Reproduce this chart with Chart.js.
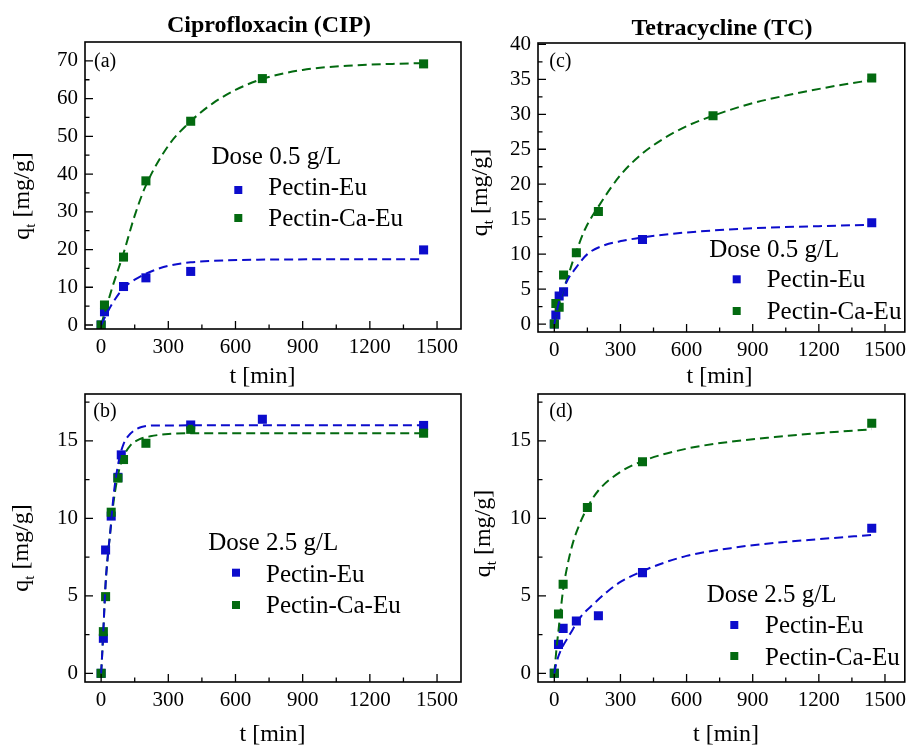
<!DOCTYPE html>
<html>
<head>
<meta charset="utf-8">
<script src="https://cdn.jsdelivr.net/npm/chart.js@4.4.1/dist/chart.umd.min.js"></script>
<style>
  html, body { margin: 0; padding: 0; background: #fff; }
  #wrap { position: relative; width: 912px; height: 747px; overflow: hidden; background: #fff; }
  #wrap canvas { position: absolute; left: 0; top: 0; }
</style>
</head>
<body>
<div id="wrap">
  <canvas id="panelA" width="912" height="747"></canvas>
  <canvas id="panelB" width="912" height="747"></canvas>
  <canvas id="panelC" width="912" height="747"></canvas>
  <canvas id="panelD" width="912" height="747"></canvas>
</div>
<script>
// ---------- data: adsorption kinetics, t [min] vs q_t [mg/g] ----------

// (a) Ciprofloxacin, dose 0.5 g/L
const cipLowEuT = [0, 15, 100, 200, 400, 1440];
const cipLowEuQ = [0, 3.5, 10.2, 12.5, 14.2, 19.9];
const cipLowCaT = [0, 15, 100, 200, 400, 720, 1440];
const cipLowCaQ = [0, 5.3, 18.0, 38.2, 54.0, 65.3, 69.2];
const cipLowEuFitT = [0, 25, 50, 100, 150, 200, 250, 300, 400, 500, 700, 1000, 1440];
const cipLowEuFitQ = [0, 3.0, 5.7, 9.8, 12.0, 13.6, 14.8, 15.7, 16.6, 17.0, 17.3, 17.4, 17.4];
const cipLowCaFitT = [0, 25, 50, 100, 150, 200, 300, 400, 500, 600, 720, 900, 1100, 1300, 1440];
const cipLowCaFitQ = [0, 5, 10, 19, 29, 37, 47.5, 54, 58.8, 62.3, 65.2, 67.6, 68.7, 69.2, 69.4];

// (b) Ciprofloxacin, dose 2.5 g/L
const cipHighEuT = [0, 10, 20, 45, 75, 90, 400, 720, 1440];
const cipHighEuQ = [0, 2.26, 7.96, 10.15, 12.65, 14.1, 16.03, 16.4, 16.0];
const cipHighCaT = [0, 10, 20, 45, 75, 100, 200, 400, 1440];
const cipHighCaQ = [0, 2.69, 4.95, 10.4, 12.6, 13.8, 14.85, 15.75, 15.5];
const cipHighEuFitT = [0, 5, 10, 20, 30, 40, 55, 70, 85, 100, 120, 150, 180, 250, 1440];
const cipHighEuFitQ = [0, 1.3, 2.8, 5.8, 7.6, 9.0, 11.4, 13.0, 14.1, 14.8, 15.3, 15.7, 15.9, 16.0, 16.02];
const cipHighCaFitT = [0, 5, 10, 20, 30, 40, 55, 70, 85, 100, 130, 170, 220, 300, 400, 1440];
const cipHighCaFitQ = [0, 1.3, 2.8, 5.8, 7.6, 9.0, 11.0, 12.4, 13.4, 14.0, 14.7, 15.1, 15.3, 15.45, 15.5, 15.5];

// (c) Tetracycline, dose 0.5 g/L
const tcLowEuT = [0, 7, 22, 42, 400, 1440];
const tcLowEuQ = [0, 1.3, 4.0, 4.6, 12.1, 14.5];
const tcLowCaT = [0, 7, 22, 42, 100, 200, 720, 1440];
const tcLowCaQ = [0, 2.95, 2.4, 7.0, 10.2, 16.1, 29.8, 35.2];
const tcLowEuFitT = [0, 20, 40, 60, 90, 150, 230, 310, 400, 600, 900, 1200, 1440];
const tcLowEuFitQ = [0, 3.0, 4.8, 6.3, 7.7, 10.0, 11.3, 11.9, 12.4, 13.1, 13.7, 14.0, 14.2];
const tcLowCaFitT = [0, 20, 40, 60, 80, 100, 140, 200, 300, 400, 500, 600, 720, 900, 1100, 1300, 1440];
const tcLowCaFitQ = [0, 2.6, 4.8, 6.6, 8.6, 10.4, 13.6, 16.8, 21.3, 24.4, 26.6, 28.3, 29.8, 31.6, 33.0, 34.2, 34.9];

// (d) Tetracycline, dose 2.5 g/L
const tcHighEuT = [0, 19, 40, 100, 200, 400, 1440];
const tcHighEuQ = [0, 1.87, 2.9, 3.38, 3.72, 6.5, 9.36];
const tcHighCaT = [0, 19, 40, 150, 400, 1440];
const tcHighCaQ = [0, 3.83, 5.75, 10.7, 13.66, 16.14];
const tcHighEuFitT = [0, 10, 30, 70, 120, 180, 240, 300, 400, 500, 600, 700, 800, 900, 1000, 1200, 1440];
const tcHighEuFitQ = [0, 0.7, 1.5, 2.5, 3.65, 4.5, 5.27, 5.9, 6.6, 7.15, 7.58, 7.86, 8.08, 8.27, 8.42, 8.66, 8.93];
const tcHighCaFitT = [0, 10, 20, 40, 60, 80, 100, 150, 200, 300, 400, 600, 800, 1000, 1200, 1440];
const tcHighCaFitQ = [0, 1.6, 2.9, 5.4, 7.0, 8.2, 9.1, 10.7, 11.8, 13.0, 13.7, 14.5, 14.95, 15.25, 15.5, 15.75];

// ---------- tick values ----------
const xTickLabels = [0, 300, 600, 900, 1200, 1500];
const xMinorTicks = [150, 450, 750, 1050, 1350];
const yTicksA = [0, 10, 20, 30, 40, 50, 60, 70];
const yMinorA = [5, 15, 25, 35, 45, 55, 65];
const yTicksC = [0, 5, 10, 15, 20, 25, 30, 35, 40];
const yMinorC = [2.5, 7.5, 12.5, 17.5, 22.5, 27.5, 32.5, 37.5];
const yTicksHigh = [0, 5, 10, 15];
const yMinorHigh = [2.5, 7.5, 12.5, 17.5];

// ---------- text ----------
const seriesNames = ['Pectin-Eu', 'Pectin-Ca-Eu'];
const drugTitles = ['Ciprofloxacin (CIP)', 'Tetracycline (TC)'];
const doseLabels = ['Dose 0.5 g/L', 'Dose 2.5 g/L'];
const panelLetters = ['(a)', '(b)', '(c)', '(d)'];

// ---------- style ----------
const FONT = "'Liberation Serif', 'Times New Roman', serif";
const BLUE = '#0c0ccc';
const GREEN = '#036a10';
const Y_AXIS_W = 40;
const X_AXIS_H = 34;

function pts(ts, qs) { return ts.map((t, i) => ({ x: t, y: qs[i] })); }

function decorPlugin(p) {
  return {
    id: 'decor',
    afterDraw(chart) {
      const ctx = chart.ctx;
      const a = chart.chartArea;
      const xs = chart.scales.x, ys = chart.scales.y;
      ctx.save();
      ctx.strokeStyle = '#000';
      ctx.fillStyle = '#000';

      // inward tick marks
      ctx.lineWidth = 1.3;
      ctx.beginPath();
      p.xMajor.forEach(v => { const px = xs.getPixelForValue(v); ctx.moveTo(px, a.bottom); ctx.lineTo(px, a.bottom - 8); });
      p.xMinor.forEach(v => { const px = xs.getPixelForValue(v); ctx.moveTo(px, a.bottom); ctx.lineTo(px, a.bottom - 4.5); });
      p.yMajor.forEach(v => { const py = ys.getPixelForValue(v); ctx.moveTo(a.left, py); ctx.lineTo(a.left + 8, py); });
      p.yMinor.forEach(v => { const py = ys.getPixelForValue(v); ctx.moveTo(a.left, py); ctx.lineTo(a.left + 4.5, py); });
      ctx.stroke();

      // frame
      ctx.lineWidth = 1.6;
      ctx.strokeRect(a.left, a.top, a.right - a.left, a.bottom - a.top);

      ctx.textBaseline = 'alphabetic';

      // header title
      if (p.title) {
        ctx.font = 'bold 24px ' + FONT;
        ctx.textAlign = 'center';
        ctx.fillText(p.title.text, p.title.x, p.title.y);
      }

      // panel letter
      ctx.font = '20px ' + FONT;
      ctx.textAlign = 'left';
      ctx.fillText(p.letter.text, p.letter.x, p.letter.y);

      // x-axis title
      ctx.font = '24px ' + FONT;
      ctx.textAlign = 'center';
      ctx.fillText('t [min]', p.xTitle.x, p.xTitle.y);

      // y-axis title: q with subscript t
      ctx.save();
      ctx.translate(p.yTitle.x, p.yTitle.y);
      ctx.rotate(-Math.PI / 2);
      ctx.textAlign = 'left';
      ctx.font = '24px ' + FONT;
      const wq = ctx.measureText('q').width;
      const wr = ctx.measureText(' [mg/g]').width;
      ctx.font = '15px ' + FONT;
      const wt = ctx.measureText('t').width;
      const x0 = -(wq + wt + wr) / 2;
      ctx.font = '24px ' + FONT;
      ctx.fillText('q', x0, 0);
      ctx.font = '15px ' + FONT;
      ctx.fillText('t', x0 + wq, 6);
      ctx.font = '24px ' + FONT;
      ctx.fillText(' [mg/g]', x0 + wq + wt, 0);
      ctx.restore();

      // legend
      const L = p.legend;
      ctx.font = '25px ' + FONT;
      ctx.textAlign = 'left';
      ctx.fillText(L.header, L.headerX, L.headerY);
      const colors = [BLUE, GREEN];
      seriesNames.forEach((name, i) => {
        const r = L.rows[i];
        ctx.fillStyle = colors[i];
        ctx.fillRect(L.markerX - 4, r.marker - 4, 8, 8);
        ctx.fillStyle = '#000';
        ctx.fillText(name, L.textX, r.text);
      });
      ctx.restore();
    }
  };
}

function makePanel(id, p) {
  const lineDs = (data, color) => ({
    type: 'line', data, borderColor: color, backgroundColor: color,
    borderWidth: 2, borderDash: [9, 5], pointRadius: 0, showLine: true,
    fill: false, cubicInterpolationMode: 'monotone', order: 0
  });
  const pointDs = (label, data, color, order) => ({
    type: 'scatter', label, data, backgroundColor: color, borderColor: color,
    borderWidth: 0, pointStyle: 'rect', pointRadius: 6.4, showLine: false, order
  });
  new Chart(document.getElementById(id), {
    data: {
      datasets: [
        lineDs(p.euFit, BLUE),
        lineDs(p.caFit, GREEN),
        pointDs(seriesNames[0], p.eu, BLUE, 2),
        pointDs(seriesNames[1], p.ca, GREEN, 1)
      ]
    },
    options: {
      responsive: false,
      animation: false,
      events: [],
      layout: {
        autoPadding: false,
        padding: {
          left: p.area.left - Y_AXIS_W,
          top: p.area.top,
          right: 912 - p.area.right,
          bottom: 747 - p.area.bottom - X_AXIS_H
        }
      },
      plugins: { legend: { display: false }, tooltip: { enabled: false }, title: { display: false } },
      scales: {
        x: {
          type: 'linear', position: 'bottom', min: p.xMin, max: p.xMax,
          grid: { display: false, drawTicks: false }, border: { display: false },
          afterBuildTicks: s => { s.ticks = p.xMajor.map(v => ({ value: v })); },
          afterFit: s => { s.height = X_AXIS_H; },
          ticks: { padding: 6, color: '#000', autoSkip: false, maxRotation: 0,
                   font: { family: FONT, size: 21 }, callback: v => String(v) }
        },
        y: {
          type: 'linear', position: 'left', min: p.yMin, max: p.yMax,
          grid: { display: false, drawTicks: false }, border: { display: false },
          afterBuildTicks: s => { s.ticks = p.yMajor.map(v => ({ value: v })); },
          afterFit: s => { s.width = Y_AXIS_W; },
          ticks: { padding: 7, color: '#000', autoSkip: false,
                   font: { family: FONT, size: 21 }, callback: v => String(v) }
        }
      }
    },
    plugins: [decorPlugin(p)]
  });
}

makePanel('panelA', {
  area: { left: 85, right: 461, top: 42, bottom: 329 },
  xMin: -72, xMax: 1607, yMin: -1.06, yMax: 75,
  xMajor: xTickLabels, xMinor: xMinorTicks, yMajor: yTicksA, yMinor: yMinorA,
  eu: pts(cipLowEuT, cipLowEuQ), ca: pts(cipLowCaT, cipLowCaQ),
  euFit: pts(cipLowEuFitT, cipLowEuFitQ), caFit: pts(cipLowCaFitT, cipLowCaFitQ),
  title: { text: drugTitles[0], x: 269, y: 32 },
  letter: { text: panelLetters[0], x: 94, y: 66.5 },
  xTitle: { x: 262.5, y: 383 },
  yTitle: { x: 28.5, y: 196 },
  legend: { header: doseLabels[0], headerX: 211.5, headerY: 163.5, markerX: 238.3, textX: 268.3,
            rows: [{ marker: 190, text: 195 }, { marker: 218, text: 226 }] }
});

makePanel('panelB', {
  area: { left: 85, right: 461, top: 394, bottom: 682 },
  xMin: -72, xMax: 1607, yMin: -0.56, yMax: 18.03,
  xMajor: xTickLabels, xMinor: xMinorTicks, yMajor: yTicksHigh, yMinor: yMinorHigh,
  eu: pts(cipHighEuT, cipHighEuQ), ca: pts(cipHighCaT, cipHighCaQ),
  euFit: pts(cipHighEuFitT, cipHighEuFitQ), caFit: pts(cipHighCaFitT, cipHighCaFitQ),
  title: null,
  letter: { text: panelLetters[1], x: 93.3, y: 416.5 },
  xTitle: { x: 272.5, y: 741 },
  yTitle: { x: 28, y: 548 },
  legend: { header: doseLabels[1], headerX: 208.3, headerY: 550, markerX: 236, textX: 266,
            rows: [{ marker: 572.7, text: 581.7 }, { marker: 605, text: 613.3 }] }
});

makePanel('panelC', {
  area: { left: 538, right: 911.5, top: 43, bottom: 332 },
  xMin: -74, xMax: 1590, yMin: -1.14, yMax: 40.2,
  xMajor: xTickLabels, xMinor: xMinorTicks, yMajor: yTicksC, yMinor: yMinorC,
  eu: pts(tcLowEuT, tcLowEuQ), ca: pts(tcLowCaT, tcLowCaQ),
  euFit: pts(tcLowEuFitT, tcLowEuFitQ), caFit: pts(tcLowCaFitT, tcLowCaFitQ),
  title: { text: drugTitles[1], x: 722, y: 34.5 },
  letter: { text: panelLetters[2], x: 549.3, y: 66.5 },
  xTitle: { x: 719.5, y: 383 },
  yTitle: { x: 487, y: 192.5 },
  legend: { header: doseLabels[0], headerX: 709.3, headerY: 256.7, markerX: 736.7, textX: 766.7,
            rows: [{ marker: 279.3, text: 287.3 }, { marker: 311, text: 319.3 }] }
});

makePanel('panelD', {
  area: { left: 538, right: 911.5, top: 394, bottom: 682 },
  xMin: -74, xMax: 1590, yMin: -0.56, yMax: 18.03,
  xMajor: xTickLabels, xMinor: xMinorTicks, yMajor: yTicksHigh, yMinor: yMinorHigh,
  eu: pts(tcHighEuT, tcHighEuQ), ca: pts(tcHighCaT, tcHighCaQ),
  euFit: pts(tcHighEuFitT, tcHighEuFitQ), caFit: pts(tcHighCaFitT, tcHighCaFitQ),
  title: null,
  letter: { text: panelLetters[3], x: 549.3, y: 416.5 },
  xTitle: { x: 726, y: 741 },
  yTitle: { x: 490, y: 533.5 },
  legend: { header: doseLabels[1], headerX: 706.7, headerY: 601.7, markerX: 734.3, textX: 765,
            rows: [{ marker: 625, text: 633.3 }, { marker: 656, text: 665 }] }
});
</script>
</body>
</html>
